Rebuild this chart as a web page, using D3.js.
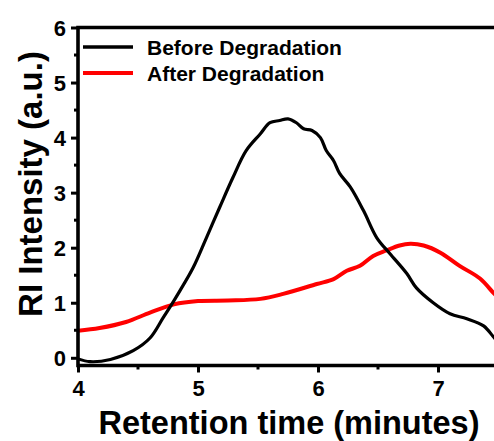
<!DOCTYPE html>
<html>
<head>
<meta charset="utf-8">
<script src="https://cdn.jsdelivr.net/npm/d3@7"></script>
<style>
	body { margin: 0; background: #ffffff; }
	svg { display: block; }
	text { font-family: "Liberation Sans", Arial, sans-serif; font-weight: bold; }
</style>
</head>
<body>
<div id="chart"></div>
<script>
	// values (retention time in minutes, RI intensity)
	const beforeX = [4.0, 4.1, 4.27, 4.46, 4.6, 4.71, 4.8, 4.85, 4.96, 5.07, 5.18, 5.29, 5.4, 5.52, 5.6, 5.68, 5.75, 5.82, 5.88, 5.95, 6.02, 6.07, 6.13, 6.18, 6.27, 6.38, 6.49, 6.6, 6.74, 6.82, 6.96, 7.1, 7.24, 7.38, 7.47, 7.52];
	const beforeY = [-0.02, -0.07, -0.03, 0.13, 0.36, 0.73, 1.04, 1.22, 1.64, 2.18, 2.73, 3.27, 3.76, 4.07, 4.27, 4.31, 4.34, 4.27, 4.16, 4.13, 4.0, 3.76, 3.58, 3.35, 3.1, 2.67, 2.18, 1.89, 1.53, 1.27, 1.0, 0.8, 0.71, 0.58, 0.36, 0.25];
	const afterX = [4.0, 4.18, 4.4, 4.6, 4.8, 5.0, 5.25, 5.52, 5.71, 5.99, 6.13, 6.24, 6.35, 6.46, 6.57, 6.68, 6.77, 6.88, 7.02, 7.18, 7.35, 7.47, 7.52];
	const afterY = [0.49, 0.54, 0.65, 0.82, 0.97, 1.03, 1.04, 1.07, 1.16, 1.34, 1.43, 1.58, 1.67, 1.85, 1.95, 2.04, 2.07, 2.04, 1.91, 1.67, 1.44, 1.16, 1.06];
	const xTicks = [4, 5, 6, 7];
	const yTicks = [0, 1, 2, 3, 4, 5, 6];
	const seriesNames = ['Before Degradation', 'After Degradation'];
	const seriesColours = ['#000000', '#ff0000'];

	const width = 494, height = 441;
	const margin = { top: 27.5, right: -4, bottom: 75.5, left: 78 };

	const svg = d3.select('#chart').append('svg')
		.attr('width', width)
		.attr('height', height);

	const x = d3.scaleLinear()
		.domain([4, 7.5])
		.range([margin.left, width - margin.right]);
	const y = d3.scaleLinear()
		.domain([-0.14, 6])
		.range([height - margin.bottom, margin.top]);

	svg.append('clipPath').attr('id', 'plot')
		.append('rect')
		.attr('x', margin.left)
		.attr('y', margin.top)
		.attr('width', width - margin.left - margin.right)
		.attr('height', height - margin.top - margin.bottom);

	const line = d3.line()
		.x(d => x(d[0]))
		.y(d => y(d[1]))
		.curve(d3.curveCatmullRom.alpha(0.5));

	const before = beforeX.map((v, i) => [v, beforeY[i]]);
	const after = afterX.map((v, i) => [v, afterY[i]]);

	const curves = svg.append('g').attr('clip-path', 'url(#plot)');
	curves.append('path')
		.datum(after)
		.attr('d', line)
		.attr('fill', 'none')
		.attr('stroke', seriesColours[1])
		.attr('stroke-width', 4);
	curves.append('path')
		.datum(before)
		.attr('d', line)
		.attr('fill', 'none')
		.attr('stroke', seriesColours[0])
		.attr('stroke-width', 3.2);

	// axes
	const xAxis = d3.axisBottom(x)
		.tickValues(xTicks)
		.tickSize(7)
		.tickPadding(8)
		.tickFormat(d3.format('d'));
	const gx = svg.append('g')
		.attr('transform', `translate(0,${height - margin.bottom})`)
		.call(xAxis);

	const yAxis = d3.axisLeft(y)
		.tickValues(yTicks)
		.tickSize(7)
		.tickPadding(5)
		.tickFormat(d3.format('d'));
	const gy = svg.append('g')
		.attr('transform', `translate(${margin.left},0)`)
		.call(yAxis);

	[gx, gy].forEach(function (g) {
		g.select('.domain').remove();
		g.selectAll('.tick line').attr('stroke', '#000').attr('stroke-width', 3);
		g.selectAll('.tick text')
			.attr('fill', '#000')
			.style('font-size', '22px');
	});
	gy.selectAll('.tick text').attr('dy', '0.36em');

	// minor ticks
	svg.append('g').selectAll('line')
		.data(d3.range(4.5, 7.5, 1))
		.join('line')
		.attr('x1', d => x(d)).attr('x2', d => x(d))
		.attr('y1', height - margin.bottom).attr('y2', height - margin.bottom + 4)
		.attr('stroke', '#000').attr('stroke-width', 3);
	svg.append('g').selectAll('line')
		.data(d3.range(0.5, 6, 1))
		.join('line')
		.attr('y1', d => y(d)).attr('y2', d => y(d))
		.attr('x1', margin.left).attr('x2', margin.left - 4)
		.attr('stroke', '#000').attr('stroke-width', 3);

	// frame: left, bottom and top lines
	svg.append('path')
		.attr('d', `M${width},${margin.top}H${margin.left}V${height - margin.bottom}H${width}`)
		.attr('fill', 'none')
		.attr('stroke', '#000')
		.attr('stroke-width', 3.6)
		.attr('stroke-linecap', 'square');

	// axis titles
	svg.append('text')
		.attr('x', 289)
		.attr('y', 434)
		.attr('text-anchor', 'middle')
		.style('font-size', '32.5px')
		.text('Retention time (minutes)');
	svg.append('text')
		.attr('transform', 'translate(42,184) rotate(-90)')
		.attr('text-anchor', 'middle')
		.style('font-size', '33px')
		.text('RI Intensity (a.u.)');

	// legend
	const legend = svg.append('g');
	seriesNames.forEach(function (name, i) {
		const ly = 47 + i * 26;
		legend.append('line')
			.attr('x1', 83).attr('x2', 133)
			.attr('y1', ly).attr('y2', ly)
			.attr('stroke', seriesColours[i])
			.attr('stroke-width', i === 1 ? 4 : 3.5);
		legend.append('text')
			.attr('x', 147)
			.attr('y', ly + 7.5)
			.style('font-size', '21px')
			.text(name);
	});
</script>
</body>
</html>
